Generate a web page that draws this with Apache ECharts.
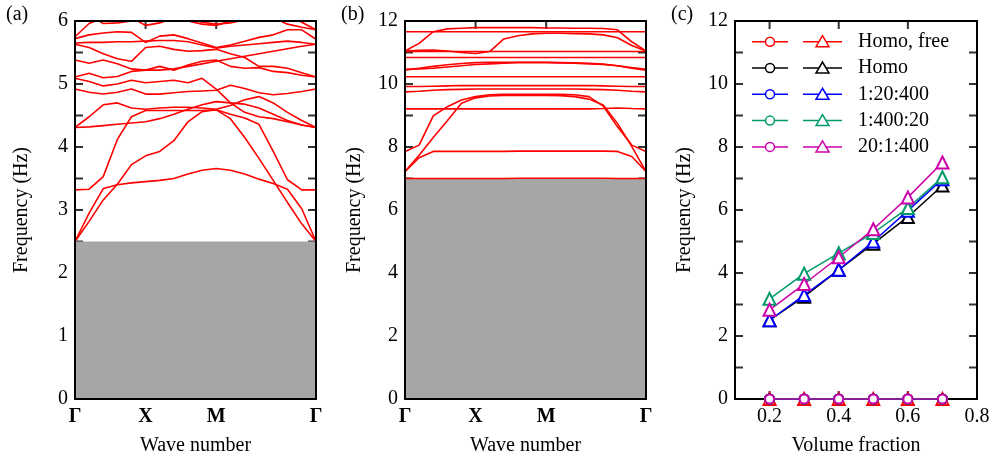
<!DOCTYPE html>
<html><head><meta charset="utf-8">
<script src="https://cdn.jsdelivr.net/npm/echarts@6/dist/echarts.min.js"></script>
<style>html,body{margin:0;padding:0;background:#fff}#c{width:991px;height:458px}</style>
</head><body><div id="c"></div>
<script>
// ---- wave-number path (Γ=0, X=1, M=2, Γ=2+√2) ----
const kPath = [0,0.2,0.4,0.6,0.8,1.0,1.2,1.4,1.6,1.8,2.0,2.202,2.404,2.606,2.808,3.010,3.212,3.414];
const kTickValues = [0,1,2,3.414];
const kTickLabels = ['Γ','X','M','Γ'];
const gapA = 2.5;   // top of shaded region, panel (a)
const gapB = 7.0;   // top of shaded region, panel (b)

// ---- tick positions (axis values) ----
const tickK  = [1,2];
const tickYA = [0.5,1,1.5,2,2.5,3,3.5,4,4.5,5,5.5];
const tickYB = [1,2,3,4,5,6,7,8,9,10,11];
const tickYC = [1,2,3,4,5,6,7,8,9,10,11];
const tickXC = [0.2,0.4,0.6];
const labelXC = [0.2,0.4,0.6,0.8];

// ---- panel (a) bands ----
const bandA1  = [2.50,2.95,3.34,3.40,3.43,3.45,3.47,3.50,3.57,3.63,3.66,3.63,3.57,3.49,3.42,3.33,3.02,2.50];
const bandA2  = [2.50,2.82,3.16,3.41,3.72,3.86,3.93,4.10,4.40,4.56,4.59,4.45,4.15,3.82,3.47,3.12,2.78,2.50];
const bandA3  = [3.32,3.33,3.53,4.12,4.48,4.58,4.58,4.58,4.58,4.58,4.59,4.52,4.46,4.36,3.93,3.48,3.32,3.32];
const bandA4  = [4.31,4.32,4.34,4.36,4.38,4.40,4.45,4.52,4.60,4.67,4.72,4.70,4.68,4.62,4.52,4.42,4.35,4.31];
const bandA5  = [4.31,4.48,4.67,4.70,4.62,4.60,4.62,4.63,4.63,4.62,4.60,4.66,4.75,4.80,4.70,4.55,4.42,4.31];
const bandA6  = [4.92,4.87,4.84,4.87,4.92,4.84,4.84,4.86,4.88,4.89,4.90,4.98,4.93,4.86,4.83,4.85,4.88,4.92];
const bandA7  = [5.09,5.04,4.97,5.00,5.06,5.02,5.04,5.06,5.02,5.09,4.92,4.70,4.55,4.48,4.45,4.40,4.35,4.31];
const bandA8  = [5.11,5.17,5.10,5.12,5.20,5.22,5.22,5.24,5.28,5.32,5.36,5.40,5.44,5.48,5.52,5.56,5.60,5.63];
const bandA9  = [5.38,5.33,5.38,5.32,5.24,5.22,5.28,5.22,5.30,5.36,5.38,5.28,5.25,5.26,5.20,5.18,5.14,5.11];
const bandA10 = [5.63,5.58,5.48,5.40,5.36,5.58,5.60,5.55,5.52,5.53,5.55,5.48,5.42,5.28,5.28,5.25,5.18,5.11];
const bandA11 = [5.65,5.66,5.66,5.67,5.67,5.68,5.69,5.69,5.67,5.62,5.57,5.60,5.62,5.64,5.66,5.68,5.66,5.63];
const bandA12 = [5.72,5.78,5.81,5.83,5.82,5.66,5.76,5.78,5.72,5.65,5.58,5.62,5.68,5.74,5.78,5.86,5.86,5.71];
const bandA13 = [5.75,5.96,6.05,6.10,6.05,5.93,5.97,6.05,6.05,5.98,5.95,5.97,6.02,6.10,6.05,5.95,5.90,5.86];
const bandA14 = [6.20,6.10,5.96,5.97,6.00,6.10,6.10,6.05,6.00,5.95,5.93,6.00,6.10,6.20,6.20,6.10,5.98,5.86];
const bandsA = [bandA1,bandA2,bandA3,bandA4,bandA5,bandA6,bandA7,bandA8,bandA9,bandA10,bandA11,bandA12,bandA13,bandA14];

// ---- panel (b) bands ----
const bandB1  = [7.00,7.00,7.00,7.00,7.00,7.00,7.00,7.00,7.01,7.01,7.01,7.01,7.01,7.01,7.01,7.00,7.00,7.00];
const bandB2  = [7.22,7.66,7.86,7.86,7.86,7.86,7.86,7.86,7.87,7.87,7.87,7.87,7.87,7.87,7.87,7.86,7.70,7.22];
const bandB3  = [7.22,7.74,8.30,8.83,9.39,9.56,9.62,9.64,9.64,9.64,9.64,9.63,9.60,9.52,9.33,8.75,8.02,7.22];
const bandB4  = [7.86,8.06,8.99,9.28,9.49,9.60,9.66,9.67,9.67,9.67,9.67,9.67,9.66,9.60,9.30,8.64,8.06,7.86];
const bandB5  = [9.21,9.21,9.21,9.21,9.21,9.21,9.21,9.21,9.21,9.21,9.21,9.21,9.21,9.21,9.22,9.24,9.22,9.21];
const bandB6  = [9.75,9.77,9.80,9.82,9.83,9.84,9.84,9.84,9.84,9.84,9.84,9.84,9.84,9.83,9.82,9.80,9.77,9.75];
const bandB7  = [9.92,9.92,9.93,9.94,9.95,9.95,9.95,9.95,9.95,9.95,9.95,9.95,9.95,9.95,9.94,9.93,9.92,9.92];
const bandB8  = [10.23,10.23,10.23,10.23,10.23,10.23,10.23,10.23,10.23,10.23,10.23,10.23,10.23,10.23,10.23,10.23,10.23,10.23];
const bandB9  = [10.44,10.50,10.56,10.61,10.65,10.68,10.69,10.69,10.69,10.69,10.69,10.68,10.67,10.66,10.63,10.58,10.50,10.44];
const bandB10 = [10.47,10.48,10.50,10.54,10.58,10.62,10.64,10.66,10.68,10.68,10.68,10.67,10.66,10.64,10.62,10.58,10.52,10.47];
const bandB11 = [10.84,10.84,10.84,10.84,10.84,10.84,10.84,10.84,10.84,10.84,10.84,10.84,10.84,10.84,10.84,10.84,10.84,10.84];
const bandB12 = [11.03,11.03,11.03,11.03,11.03,11.03,11.03,11.03,11.03,11.03,11.03,11.03,11.03,11.03,11.03,11.03,11.03,11.03];
const bandB13 = [11.05,11.07,11.08,11.05,11.00,10.97,11.03,11.43,11.53,11.59,11.61,11.61,11.60,11.59,11.56,11.47,11.22,11.05];
const bandB14 = [11.05,11.29,11.66,11.75,11.77,11.79,11.79,11.79,11.79,11.79,11.78,11.78,11.77,11.77,11.76,11.72,11.34,11.05];
const bandB15 = [11.66,11.66,11.66,11.66,11.66,11.66,11.66,11.66,11.66,11.66,11.66,11.66,11.66,11.66,11.66,11.66,11.66,11.66];
const bandsB = [bandB1,bandB2,bandB3,bandB4,bandB5,bandB6,bandB7,bandB8,bandB9,bandB10,bandB11,bandB12,bandB13,bandB14,bandB15];

// ---- panel (c) ----
const volumeFraction = [0.2,0.3,0.4,0.5,0.6,0.7];
const caseNames  = ['Homo, free','Homo','1:20:400','1:400:20','20:1:400'];
const caseColors = ['#ff0000','#000000','#0000ff','#00996b','#cc00aa'];
const lowerHomoFree = [0,0,0,0,0,0];
const lowerHomo     = [0,0,0,0,0,0];
const lower1_20_400 = [0,0,0,0,0,0];
const lower1_400_20 = [0,0,0,0,0,0];
const lower20_1_400 = [0,0,0,0,0,0];
const upperHomoFree = [0,0,0,0,0,0];
const upperHomo     = [2.50,3.25,4.10,4.93,5.78,6.78];
const upper1_20_400 = [2.50,3.30,4.10,5.00,5.98,6.98];
const upper1_400_20 = [3.18,3.98,4.63,5.27,6.06,7.04];
const upper20_1_400 = [2.83,3.65,4.50,5.39,6.40,7.51];
const lowerSets = [lowerHomoFree,lowerHomo,lower1_20_400,lower1_400_20,lower20_1_400];
const upperSets = [upperHomoFree,upperHomo,upper1_20_400,upper1_400_20,upper20_1_400];
const panelTags = ['(a)','(b)','(c)'];

// ---- axis extents ----
const kMin = 0, kMax = 3.414, fMaxA = 6, fMaxB = 12, fMaxC = 12, vMin = 0.1, vMax = 0.8;

// ---- layout (legend key for panel c) ----
const legendTop = 41.7, legendStep = 26.3;
const legendCircleX = [752, 788, 770], legendTriX = [803, 842, 822.5], legendTextX = 858;

const FONT = 'Liberation Serif';
const txt = {fontFamily: FONT, fontSize: 20, color: '#000'};
function frame() { return {show: true, onZero: false, lineStyle: {color: '#000', width: 2}}; }

function xAxisDef(gridIndex, pos, min, max, label, name, zTop) {
  const bottom = pos === 'bottom';
  return {
    type: 'value', gridIndex, position: pos, min, max, z: zTop,
    axisLine: frame(), splitLine: {show: false}, axisTick: {show: false},
    axisLabel: bottom ? label : {show: false},
    name: bottom ? name : '', nameLocation: 'middle', nameGap: 37, nameTextStyle: Object.assign({}, txt)
  };
}
function yAxisDef(gridIndex, pos, max, interval, nameGap, zTop) {
  const left = pos === 'left';
  return {
    type: 'value', gridIndex, position: pos, min: 0, max, interval, z: zTop,
    axisLine: frame(), splitLine: {show: false}, axisTick: {show: false},
    axisLabel: left ? Object.assign({show: true, margin: 7}, txt) : {show: false},
    name: left ? 'Frequency (Hz)' : '', nameLocation: 'middle', nameGap, nameTextStyle: Object.assign({}, txt)
  };
}
const kLabel = {show: true, customValues: kTickValues, margin: 8, fontFamily: FONT, fontSize: 20, fontWeight: 'bold', color: '#000',
  formatter: v => kTickLabels[kTickValues.indexOf(v)]};
const vLabel = Object.assign({show: true, margin: 8, customValues: labelXC, formatter: v => v.toFixed(1)}, txt);

const series = [];
function addBands(bands, axisIdx, gap) {
  series.push({
    type: 'line', xAxisIndex: axisIdx, yAxisIndex: axisIdx,
    data: [[kMin, gap], [kMax, gap]], symbol: 'none',
    lineStyle: {width: 0}, areaStyle: {color: '#a6a6a6', opacity: 1}
  });
  bands.forEach(b => series.push({
    type: 'line', xAxisIndex: axisIdx, yAxisIndex: axisIdx,
    data: kPath.map((k, i) => [k, b[i]]), symbol: 'none',
    lineStyle: {color: '#ff0000', width: 1.6}
  }));
}
addBands(bandsA, 0, gapA);
addBands(bandsB, 2, gapB);

caseNames.forEach((nm, i) => {
  series.push({
    name: nm, type: 'line', xAxisIndex: 4, yAxisIndex: 4,
    data: volumeFraction.map((x, j) => [x, upperSets[i][j]]),
    symbol: 'emptyTriangle', symbolSize: 12,
    lineStyle: {color: caseColors[i], width: 1.5}, itemStyle: {color: caseColors[i], borderWidth: 1.5}
  });
});
caseNames.forEach((nm, i) => {
  series.push({
    name: nm + ' (low)', type: 'line', xAxisIndex: 4, yAxisIndex: 4,
    data: volumeFraction.map((x, j) => [x, lowerSets[i][j]]),
    symbol: 'emptyCircle', symbolSize: 9,
    lineStyle: {color: caseColors[i], width: 1.5}, itemStyle: {color: caseColors[i], borderWidth: 1.5}
  });
});

// inward tick marks, placed through each panel's own axes
function tickMarks(axisIdx, xMin, xMax, yMax, xTicks, yTicks) {
  const common = {type: 'scatter', xAxisIndex: axisIdx, yAxisIndex: axisIdx, symbol: 'rect',
    silent: true, clip: false, itemStyle: {color: '#000'}};
  series.push(Object.assign({}, common, {data: yTicks.map(v => [xMin, v]), symbolSize: [8, 2], symbolOffset: [4, 0]}));
  series.push(Object.assign({}, common, {data: yTicks.map(v => [xMax, v]), symbolSize: [8, 2], symbolOffset: [-4, 0]}));
  series.push(Object.assign({}, common, {data: xTicks.map(v => [v, 0]), symbolSize: [2, 8], symbolOffset: [0, -4]}));
  series.push(Object.assign({}, common, {data: xTicks.map(v => [v, yMax]), symbolSize: [2, 8], symbolOffset: [0, 4]}));
}
tickMarks(0, kMin, kMax, fMaxA, tickK, tickYA);
tickMarks(2, kMin, kMax, fMaxB, tickK, tickYB);
tickMarks(4, vMin, vMax, fMaxC, tickXC, tickYC);

// legend key drawn as graphic elements (text kept as real text)
const keyGraphics = [];
caseNames.forEach((nm, i) => {
  const y = legendTop + i * legendStep, c = caseColors[i];
  const tx = legendTriX[2];
  keyGraphics.push(
    {type: 'line', shape: {x1: legendCircleX[0], y1: y, x2: legendCircleX[1], y2: y}, style: {stroke: c, lineWidth: 1.5}, z: 10},
    {type: 'circle', shape: {cx: legendCircleX[2], cy: y, r: 4.5}, style: {fill: '#fff', stroke: c, lineWidth: 1.5}, z: 11},
    {type: 'line', shape: {x1: legendTriX[0], y1: y, x2: legendTriX[1], y2: y}, style: {stroke: c, lineWidth: 1.5}, z: 10},
    {type: 'polygon', shape: {points: [[tx, y - 6], [tx - 6.5, y + 5], [tx + 6.5, y + 5]]}, style: {fill: '#fff', stroke: c, lineWidth: 1.5}, z: 11},
    {type: 'text', x: legendTextX, y: y, style: {text: nm, fontFamily: FONT, fontSize: 20, fill: '#000', verticalAlign: 'middle'}, z: 11}
  );
});

const option = {
  animation: false,
  graphic: panelTags.map((t, i) => ({
    type: 'text', left: [6, 341, 671][i], top: 5,
    style: {text: t, fontFamily: FONT, fontSize: 20, fill: '#000'}
  })).concat(keyGraphics),
  grid: [
    {left: 75, top: 21, width: 241, height: 378, outerBoundsMode: 'none'},
    {left: 405, top: 21, width: 241, height: 378, outerBoundsMode: 'none'},
    {left: 735, top: 21, width: 242, height: 378, outerBoundsMode: 'none'}
  ],
  xAxis: [
    xAxisDef(0, 'bottom', kMin, kMax, kLabel, 'Wave number', 10), xAxisDef(0, 'top', kMin, kMax, null, '', 10),
    xAxisDef(1, 'bottom', kMin, kMax, kLabel, 'Wave number', 10), xAxisDef(1, 'top', kMin, kMax, null, '', 10),
    xAxisDef(2, 'bottom', vMin, vMax, vLabel, 'Volume fraction', 0), xAxisDef(2, 'top', vMin, vMax, null, '', 0)
  ],
  yAxis: [
    yAxisDef(0, 'left', fMaxA, 1, 43, 10), yAxisDef(0, 'right', fMaxA, 1, 0, 10),
    yAxisDef(1, 'left', fMaxB, 2, 40, 10), yAxisDef(1, 'right', fMaxB, 2, 0, 10),
    yAxisDef(2, 'left', fMaxC, 2, 40, 0), yAxisDef(2, 'right', fMaxC, 2, 0, 0)
  ],
  series
};
const chart = echarts.init(document.getElementById('c'));
chart.setOption(option);
</script>
</body></html>
